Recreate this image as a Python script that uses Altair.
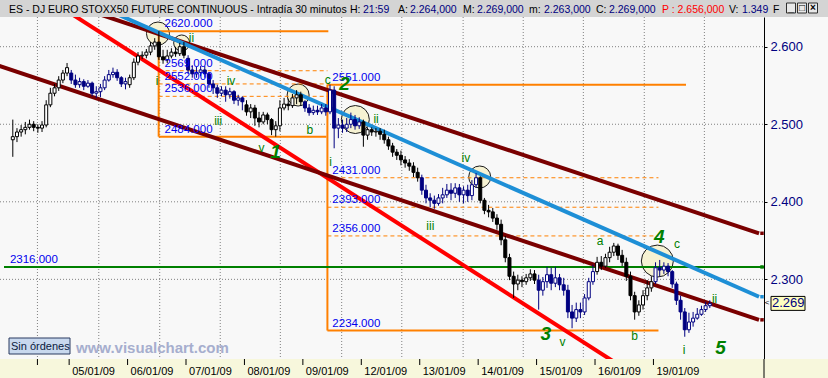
import altair as alt
import pandas as pd

# ---------------- data ----------------
day_labels = ["02/01/09", "05/01/09", "06/01/09", "07/01/09", "08/01/09", "09/01/09",
              "12/01/09", "13/01/09", "14/01/09", "15/01/09", "16/01/09", "19/01/09"]
day_colors = ["#000000", "#000080"] * 6
bars_per_day = 14

open_ = [
    2480, 2484, 2490, 2493, 2496, 2500, 2496, 2495, 2499, 2525, 2540, 2547, 2557, 2566,
    2566, 2557, 2551, 2555, 2549, 2553, 2540, 2542, 2547, 2557, 2564, 2567, 2560, 2552,
    2551, 2560, 2580, 2588, 2589, 2593, 2601, 2606, 2587, 2583, 2588, 2593, 2591, 2600,
    2585, 2570, 2565, 2567, 2570, 2565, 2552, 2547, 2540, 2544, 2538, 2542, 2531, 2534,
    2525, 2516, 2521, 2508, 2503, 2512, 2506, 2493, 2498, 2521, 2526, 2524, 2534, 2538,
    2529, 2521, 2515, 2518, 2516, 2521, 2516, 2544, 2495, 2499, 2495, 2500, 2506, 2498,
    2503, 2486, 2493, 2490, 2491, 2487, 2480, 2472, 2464, 2460, 2454, 2450, 2446, 2438,
    2431, 2415, 2405, 2402, 2398, 2405, 2409, 2415, 2411, 2418, 2409, 2415, 2408, 2422,
    2431, 2402, 2389, 2387, 2379, 2371, 2351, 2328, 2304, 2294, 2299, 2297, 2302, 2307,
    2299, 2286, 2297, 2306, 2295, 2302, 2293, 2286, 2258, 2250, 2261, 2258, 2276, 2297,
    2310, 2322, 2317, 2328, 2335, 2343, 2331, 2322, 2304, 2279, 2258, 2267, 2279, 2289,
    2297, 2315, 2312, 2317, 2310, 2294, 2273, 2258, 2235, 2245, 2250, 2255, 2261, 2266,
]
close_ = [
    2484, 2490, 2493, 2496, 2500, 2496, 2495, 2499, 2525, 2540, 2547, 2557, 2566, 2573,
    2557, 2551, 2555, 2549, 2553, 2540, 2542, 2547, 2557, 2564, 2567, 2560, 2552, 2555,
    2560, 2580, 2588, 2589, 2593, 2601, 2606, 2587, 2583, 2588, 2593, 2591, 2600, 2589,
    2570, 2565, 2567, 2570, 2565, 2552, 2547, 2540, 2544, 2538, 2542, 2531, 2534, 2529,
    2516, 2521, 2508, 2503, 2512, 2506, 2493, 2498, 2521, 2526, 2524, 2534, 2538, 2529,
    2521, 2515, 2518, 2516, 2521, 2516, 2544, 2495, 2499, 2495, 2500, 2506, 2498, 2503,
    2486, 2493, 2490, 2491, 2487, 2480, 2472, 2464, 2460, 2454, 2450, 2446, 2438, 2431,
    2415, 2405, 2402, 2398, 2405, 2409, 2415, 2411, 2418, 2409, 2415, 2408, 2422, 2431,
    2402, 2389, 2387, 2379, 2371, 2351, 2328, 2304, 2294, 2299, 2297, 2302, 2307, 2299,
    2286, 2297, 2306, 2295, 2302, 2293, 2286, 2258, 2250, 2261, 2258, 2276, 2297, 2310,
    2322, 2317, 2328, 2335, 2343, 2331, 2322, 2304, 2279, 2258, 2267, 2279, 2289, 2297,
    2315, 2312, 2317, 2310, 2294, 2273, 2258, 2235, 2245, 2250, 2255, 2261, 2266, 2269,
]
high_ = [
    2506, 2495, 2499, 2503, 2506, 2504, 2500, 2504, 2531, 2547, 2552, 2562, 2570, 2579,
    2570, 2564, 2560, 2558, 2557, 2555, 2549, 2552, 2562, 2570, 2573, 2571, 2562, 2560,
    2564, 2585, 2593, 2594, 2597, 2606, 2611, 2620, 2596, 2596, 2598, 2600, 2605, 2606,
    2589, 2576, 2574, 2575, 2575, 2567, 2557, 2551, 2549, 2549, 2547, 2544, 2538, 2536,
    2531, 2526, 2525, 2516, 2516, 2515, 2508, 2504, 2531, 2534, 2533, 2539, 2544, 2542,
    2531, 2526, 2524, 2524, 2526, 2526, 2551, 2549, 2508, 2506, 2508, 2515, 2512, 2509,
    2506, 2496, 2496, 2495, 2495, 2493, 2484, 2476, 2468, 2466, 2459, 2455, 2451, 2444,
    2435, 2422, 2411, 2408, 2410, 2418, 2423, 2424, 2424, 2423, 2420, 2422, 2428, 2437,
    2433, 2405, 2396, 2392, 2384, 2377, 2356, 2333, 2310, 2306, 2304, 2307, 2313, 2312,
    2306, 2303, 2316, 2315, 2316, 2307, 2302, 2293, 2267, 2270, 2270, 2281, 2302, 2319,
    2329, 2330, 2333, 2342, 2347, 2346, 2338, 2328, 2310, 2284, 2273, 2286, 2299, 2304,
    2322, 2325, 2322, 2321, 2312, 2297, 2279, 2263, 2257, 2258, 2263, 2266, 2271, 2273,
]
low_ = [
    2458, 2477, 2484, 2487, 2493, 2491, 2489, 2490, 2496, 2522, 2536, 2543, 2553, 2562,
    2552, 2547, 2547, 2544, 2547, 2536, 2534, 2535, 2544, 2555, 2560, 2556, 2548, 2545,
    2547, 2557, 2576, 2584, 2585, 2589, 2596, 2583, 2578, 2579, 2585, 2587, 2588, 2585,
    2565, 2560, 2560, 2562, 2560, 2547, 2539, 2534, 2536, 2529, 2533, 2526, 2524, 2518,
    2511, 2508, 2498, 2496, 2500, 2500, 2486, 2484, 2491, 2518, 2518, 2521, 2526, 2524,
    2516, 2511, 2512, 2512, 2513, 2511, 2513, 2469, 2482, 2489, 2490, 2495, 2493, 2494,
    2471, 2480, 2485, 2484, 2480, 2475, 2467, 2458, 2454, 2447, 2444, 2440, 2432, 2426,
    2409, 2398, 2393, 2391, 2395, 2398, 2405, 2402, 2405, 2400, 2398, 2400, 2402, 2418,
    2398, 2384, 2380, 2374, 2364, 2344, 2322, 2299, 2276, 2286, 2290, 2293, 2298, 2294,
    2261, 2279, 2289, 2286, 2290, 2286, 2279, 2250, 2237, 2245, 2250, 2254, 2273, 2293,
    2306, 2312, 2315, 2322, 2330, 2325, 2317, 2298, 2273, 2248, 2253, 2261, 2273, 2284,
    2294, 2304, 2307, 2304, 2289, 2267, 2248, 2226, 2231, 2239, 2248, 2253, 2258, 2263,
]

# trend lines: (name, x_start, price_start, x_end, price_end) in bar units
trend_names = ["red", "maroon_up", "maroon_low", "blue"]
trend_x1 = [8.1, 12.8, -3.74, 22.3]
trend_p1 = [2664.6, 2656.9, 2577.2, 2649.5]
trend_x2 = [150.0, 179.3, 179.3, 179.3]
trend_p2 = [2174.9, 2359.4, 2247.8, 2277.6]
trend_colors = ["#ff0000", "#7a0000", "#7a0000", "#1e8fd6"]

# fibonacci boxes
fib_solid_x1 = [35.45, 35.45, 35.45, 75.88, 75.88, 75.88]
fib_solid_x2 = [76.1, 75.65, 35.45, 161.8, 155.2, 75.88]
fib_solid_p1 = [2620, 2484, 2484, 2551, 2234, 2234]
fib_solid_p2 = [2620, 2484, 2620, 2551, 2234, 2551]
fib_dash_x1 = [35.45, 35.45, 35.45, 75.88, 75.88, 75.88]
fib_dash_x2 = [75.9, 75.9, 75.9, 155.2, 155.2, 155.2]
fib_dash_p = [2569, 2552, 2536, 2431, 2393, 2356]

level_x = [36.86, 36.86, 36.86, 36.86, 36.86, 77.06, 77.06, 77.06, 77.06, 77.06, -0.19]
level_p = [2620, 2569, 2552, 2536, 2484, 2551, 2431, 2393, 2356, 2234, 2316]
level_txt = ["2620.000", "2569.000", "2552.000", "2536.000", "2484.000", "2551.000",
             "2431.000", "2393.000", "2356.000", "2234.000", "2316.000"]
support_level = 2316

# elliott wave labels
wave_s_txt = ["i", "ii", "iii", "iv", "v", "b", "c", "ii", "i", "iv", "iii", "v", "a", "c", "b", "i", "ii"]
wave_s_x = [35.04, 43.32, 49.70, 52.78, 60.11, 71.70, 75.96, 87.54, 76.66, 109.06, 100.54,
            132.23, 141.21, 159.66, 149.49, 161.31, 168.64]
wave_s_p = [2555.8, 2611.2, 2504.2, 2555.8, 2469.4, 2492.6, 2557.0, 2506.8, 2451.3, 2456.5,
            2368.8, 2219.2, 2349.4, 2345.6, 2227.0, 2208.9, 2274.6]
wave_b_txt = ["1", "2", "3", "4", "5"]
wave_b_x = [63.42, 79.97, 128.21, 155.40, 170.06]
wave_b_p = [2464.2, 2551.9, 2229.5, 2354.6, 2211.5]

circle_x = [35.28, 40.96, 68.86, 82.57, 112.37, 154.93]
circle_p = [2617.0, 2604.8, 2537.7, 2506.1, 2432.0, 2323.6]
circle_d = [23, 16, 22, 28, 22, 32]

grid_x = [6.4, 21.1, 35.7, 50.2, 64.6, 79.3, 93.7, 108.4, 122.8, 137.2, 151.8, 166.2]
y_ticks = [2300, 2400, 2500, 2600]

title_px = [9, 350, 363, 398, 410, 463, 477, 529, 544, 596, 609, 662, 729, 742, 773]
title_txt = ["ES - DJ EURO STOXX50 FUTURE CONTINUOUS - Intradía 30 minutos", "H:", "21:59",
             "A:", "2.264,000", "M:", "2.269,000", "m:", "2.263,000", "C:", "2.269,000",
             "P : 2.656,000", "V:", "1.349", "F"]
title_col = ["#000000", "#000000", "#000080", "#000000", "#000080", "#000000", "#000080",
             "#000000", "#000080", "#000000", "#000080", "#ff0000", "#000000", "#000080", "#000000"]

# ---------------- frames ----------------
W, H = 764, 342
x_dom = [-1.37, 179.29]
y_dom = [2197.3, 2638.3]
xs = alt.Scale(domain=x_dom, nice=False, zero=False)
ys = alt.Scale(domain=y_dom, nice=False, zero=False)

rows = []
for k in range(len(open_)):
    d = k // bars_per_day
    rows.append({"x": k + 0.5, "o": open_[k], "c": close_[k], "h": high_[k],
                 "l": low_[k], "col": day_colors[d]})
candles = pd.DataFrame(rows)

tl_rows = []
for n, a, b, c, e, col in zip(trend_names, trend_x1, trend_p1, trend_x2, trend_p2, trend_colors):
    tl_rows.append({"name": n, "x": a, "p": b, "col": col, "ord": 0})
    tl_rows.append({"name": n, "x": c, "p": e, "col": col, "ord": 1})
trend = pd.DataFrame(tl_rows)

fib_s = pd.DataFrame({"x1": fib_solid_x1, "x2": fib_solid_x2, "p1": fib_solid_p1, "p2": fib_solid_p2})
fib_d = pd.DataFrame({"x1": fib_dash_x1, "x2": fib_dash_x2, "p": fib_dash_p})
levels = pd.DataFrame({"x": level_x, "p": level_p, "t": level_txt})
waves_s = pd.DataFrame({"x": wave_s_x, "p": wave_s_p, "t": wave_s_txt})
waves_b = pd.DataFrame({"x": wave_b_x, "p": wave_b_p, "t": wave_b_txt})
circles = pd.DataFrame({"x": circle_x, "p": circle_p, "s": [d * d for d in circle_d]})
grid = pd.DataFrame({"x": grid_x})
hgrid = pd.DataFrame({"p": y_ticks})
days = pd.DataFrame({"x": [bars_per_day * i for i in range(1, len(day_labels))],
                     "t": day_labels[1:]})
strip_ticks = pd.DataFrame({"x": [grid_x[0]] + [bars_per_day * i for i in range(1, len(day_labels))]})
title_df = pd.DataFrame({"px": title_px, "t": title_txt, "col": title_col})
last = close_[-1]
tag = pd.DataFrame({"p": [last], "p1": [last + 9], "p2": [last - 9],
                    "t": [f"{last / 1000:.3f}"]})
markers = pd.DataFrame({"p": [trend_p2[1], support_level, trend_p2[3], trend_p2[2]],
                        "col": [trend_colors[1], "#008000", trend_colors[3], trend_colors[2]]})
one = pd.DataFrame({"a": [0]})

FONT = "Liberation Sans"
yaxis = alt.Axis(orient="right", values=y_ticks, title=None,
                 labelExpr="replace(format(datum.value, ',.0f'), ',', '.')",
                 tickSize=3, tickColor="#000000", domainColor="#000000",
                 labelColor="#000080", labelFontSize=13, labelFont=FONT, labelPadding=3,
                 grid=False)


def Y(field):
    return alt.Y(field, scale=ys, axis=yaxis)


def X(field):
    return alt.X(field, scale=xs, axis=None)


hg = alt.Chart(hgrid).mark_rule(color="#808080", strokeDash=[1, 2], strokeWidth=1).encode(
    y=Y("p:Q"), x=alt.value(0), x2=alt.value(W))

vgrid = alt.Chart(grid).mark_rule(color="#808080", strokeDash=[1, 2], strokeWidth=1).encode(
    x=X("x:Q"), y=alt.value(0), y2=alt.value(H))

circ = alt.Chart(circles).mark_point(shape="circle", filled=True, fill="#f6f2d2",
                                     stroke="#1a1a1a", strokeWidth=1, opacity=1).encode(
    x=X("x:Q"), y=Y("p:Q"),
    size=alt.Size("s:Q", scale=None, legend=None))

fib_solid = alt.Chart(fib_s).mark_rule(color="#ff8000", strokeWidth=2, clip=True).encode(
    x=X("x1:Q"), x2="x2:Q", y=Y("p1:Q"), y2="p2:Q")
fib_dash = alt.Chart(fib_d).mark_rule(color="#ff8000", strokeWidth=1, strokeDash=[4, 3]).encode(
    x=X("x1:Q"), x2="x2:Q", y=Y("p:Q"))

support = alt.Chart(one).mark_rule(color="#008000", strokeWidth=2).encode(
    x=alt.value(4), x2=alt.value(W),
    y=Y("p:Q")).transform_calculate(p=str(support_level))

lines = alt.Chart(trend).mark_line(strokeWidth=4, clip=True).encode(
    x=X("x:Q"), y=Y("p:Q"),
    color=alt.Color("col:N", scale=None, legend=None), detail="name:N", order="ord:Q")

wick = alt.Chart(candles).mark_rule(strokeWidth=1).encode(
    x=X("x:Q"), y=Y("l:Q"), y2="h:Q",
    color=alt.Color("col:N", scale=None, legend=None))
body = alt.Chart(candles).mark_bar(size=3, strokeWidth=1).encode(
    x=X("x:Q"), y=Y("o:Q"), y2="c:Q",
    fill=alt.condition("datum.c > datum.o", alt.value("#ffffff"), alt.Color("col:N", scale=None)),
    stroke=alt.Color("col:N", scale=None, legend=None))

lvl_txt = alt.Chart(levels).mark_text(align="left", baseline="alphabetic", dy=-4,
                                      font=FONT, fontSize=11.5, color="#0000ee").encode(
    x=X("x:Q"), y=Y("p:Q"), text="t:N")

ws = alt.Chart(waves_s).mark_text(align="center", baseline="middle", font=FONT,
                                  fontSize=12, color="#008000").encode(
    x=X("x:Q"), y=Y("p:Q"), text="t:N")
wb = alt.Chart(waves_b).mark_text(align="center", baseline="middle", font=FONT,
                                  fontSize=19, fontWeight="bold", fontStyle="italic",
                                  color="#008000").encode(
    x=X("x:Q"), y=Y("p:Q"), text="t:N")

# decorations: title bar, bottom strip, watermark, price tag
title_bar = alt.Chart(one).mark_rect(color="#d4d4d4").encode(
    x=alt.value(0), x2=alt.value(828), y=alt.value(-17), y2=alt.value(0))
title_txt_l = alt.Chart(title_df).mark_text(align="left", baseline="alphabetic",
                                            font=FONT, fontSize=10.5).encode(
    x=alt.X("px:Q", scale=None, axis=None), y=alt.value(-4), text="t:N",
    color=alt.Color("col:N", scale=None, legend=None))
btn_df = pd.DataFrame({"px": [791, 802, 813], "t": ["_", "□", "×"]})
btns = alt.Chart(btn_df).mark_rect(fill="#e8e8e8", stroke="#303030", strokeWidth=1,
                                   width=9, height=10).encode(
    x=alt.X("px:Q", scale=None, axis=None), y=alt.value(-9))
btn_t = alt.Chart(btn_df).mark_text(font=FONT, fontSize=10, fontWeight="bold",
                                    baseline="middle", color="#000000").encode(
    x=alt.X("px:Q", scale=None, axis=None), y=alt.value(-9), text="t:N")

strip = alt.Chart(one).mark_rect(color="#f7f7dc").encode(
    x=alt.value(0), x2=alt.value(828), y=alt.value(H), y2=alt.value(H + 19))
strip_line = alt.Chart(one).mark_rule(color="#000000").encode(
    x=alt.value(W), y=alt.value(H), y2=alt.value(H + 19))
sticks = alt.Chart(strip_ticks).mark_rule(color="#000000").encode(
    x=X("x:Q"), y=alt.value(H), y2=alt.value(H + 6))
dlab = alt.Chart(days).mark_text(align="left", baseline="alphabetic", dx=3, font=FONT,
                                 fontSize=11, color="#000000").encode(
    x=X("x:Q"), y=alt.value(H + 16), text="t:N")

sin_box = alt.Chart(one).mark_rect(fill="#c8d8ee", stroke="#2a3a60", strokeWidth=1).encode(
    x=alt.value(9), x2=alt.value(70), y=alt.value(H - 21), y2=alt.value(H - 5))
sin_txt = alt.Chart(one).mark_text(align="left", baseline="alphabetic", font=FONT,
                                   fontSize=11, color="#0a1a40", text="Sin órdenes").encode(
    x=alt.value(11), y=alt.value(H - 9))
water = alt.Chart(one).mark_text(align="left", baseline="alphabetic", font=FONT,
                                 fontSize=15, fontWeight="bold", color="#a6aece",
                                 text="www.visualchart.com").encode(
    x=alt.value(76), y=alt.value(H - 6))

tag_rect = alt.Chart(tag).mark_rect(fill="#ffffc0", stroke="#000000", strokeWidth=1).encode(
    x=alt.value(W + 7), x2=alt.value(W + 41),
    y=Y("p1:Q"), y2="p2:Q")
tag_txt = alt.Chart(tag).mark_text(align="left", baseline="middle", font=FONT, fontSize=13,
                                   color="#000080").encode(
    x=alt.value(W + 8), y=Y("p:Q"), text="t:N")
tag_arrow = alt.Chart(tag).mark_text(align="center", baseline="middle", font=FONT, fontSize=8,
                                     color="#000000", text="<").encode(
    x=alt.value(W + 3), y=Y("p:Q"))
mk = alt.Chart(markers).mark_square(size=12, opacity=1).encode(
    x=alt.value(W - 2), y=Y("p:Q"),
    color=alt.Color("col:N", scale=None, legend=None))

chart = alt.layer(
    hg, vgrid, circ, fib_solid, fib_dash, support, lines, wick, body,
    lvl_txt, ws, wb, mk,
    title_bar, title_txt_l, btns, btn_t, strip, strip_line, sticks, dlab,
    sin_box, sin_txt, water, tag_rect, tag_txt, tag_arrow
).properties(
    width=W, height=H,
    autosize=alt.AutoSizeParams(type="none"),
    padding={"left": 0, "top": 17, "right": 64, "bottom": 19},
    background="#f8f8f8",
).configure_view(fill="#f8f8f8", stroke=None)

chart.save("out.html", embed_options={"renderer": "svg", "actions": False})
